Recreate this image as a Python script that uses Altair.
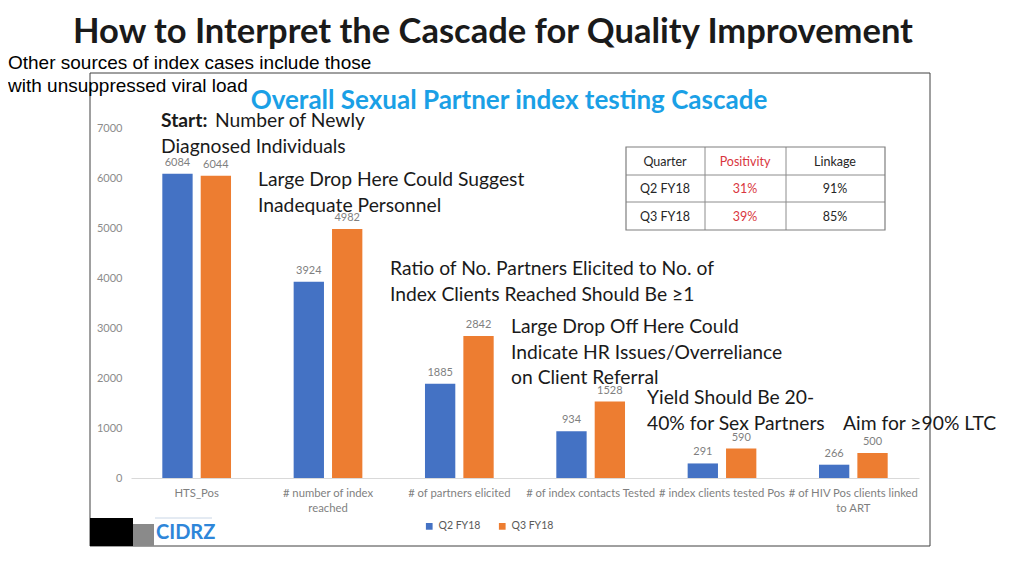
import altair as alt
import pandas as pd

# ---------------- data ----------------
categories = ["HTS_Pos", "# number of index|reached", "# of partners elicited",
              "# of index contacts Tested", "# index clients tested Pos",
              "# of HIV Pos clients linked|to ART"]
series = ["Q2 FY18", "Q3 FY18"]
q2_values = [6084, 3924, 1885, 934, 291, 266]
q3_values = [6044, 4982, 2842, 1528, 590, 500]
y_ticks = [0, 1000, 2000, 3000, 4000, 5000, 6000, 7000]

table_quarter = ["Quarter", "Q2 FY18", "Q3 FY18"]
table_positivity = ["Positivity", "31%", "39%"]
table_linkage = ["Linkage", "91%", "85%"]

main_title = "How to Interpret the Cascade for Quality Improvement"
side_note = "Other sources of index cases include those\nwith unsuppressed viral load"
inner_title = "Overall Sexual Partner index testing Cascade"
notes = [
    ("Number of Newly", 215, 127),
    ("Diagnosed Individuals", 161, 152.5),
    ("Large Drop Here Could Suggest\nInadequate Personnel", 258, 186),
    ("Ratio of No. Partners Elicited to No. of\nIndex Clients Reached Should Be \u22651", 390, 275),
    ("Large Drop Off Here Could\nIndicate HR Issues/Overreliance\non Client Referral", 511, 333),
    ("Yield Should Be 20-\n40% for Sex Partners", 647, 404),
    ("Aim for \u226590% LTC", 843, 430),
]

rows = []
for c, a, b in zip(categories, q2_values, q3_values):
    rows.append({"category": c, "series": series[0], "value": a})
    rows.append({"category": c, "series": series[1], "value": b})
df = pd.DataFrame(rows)

# plot origin on the page
OX, OY = 131, 128
W, H = 788, 350


def px(x):
    return x - OX


def py(y):
    return y - OY


one = pd.DataFrame({"k": [0]})


def text_layer(txt, x, y, size=19.3, bold=False, color="#1a1a1a", align="left",
               font="Lato", lh=25.5):
    return alt.Chart(pd.DataFrame({"t": [txt]})).mark_text(
        align=align, baseline="alphabetic", font=font, fontSize=size,
        fontWeight="bold" if bold else "normal", color=color,
        lineBreak="\n", lineHeight=lh
    ).encode(x=alt.value(px(x)), y=alt.value(py(y)), text="t:N")


def rect_layer(x1, y1, x2, y2, stroke="#404040", sw=1, fill=None):
    if fill is None:
        m = alt.Chart(one).mark_rect(filled=False, stroke=stroke, strokeWidth=sw)
    else:
        m = alt.Chart(one).mark_rect(fill=fill, stroke=None)
    return m.encode(x=alt.value(px(x1)), x2=alt.value(px(x2)),
                    y=alt.value(py(y1)), y2=alt.value(py(y2)))


def hrule(x1, x2, y, color="#8c8c8c", sw=1):
    return alt.Chart(one).mark_rule(color=color, strokeWidth=sw).encode(
        x=alt.value(px(x1)), x2=alt.value(px(x2)), y=alt.value(py(y)))


def vrule(x, y1, y2, color="#8c8c8c", sw=1):
    return alt.Chart(one).mark_rule(color=color, strokeWidth=sw).encode(
        x=alt.value(px(x)), y=alt.value(py(y1)), y2=alt.value(py(y2)))


# ---------------- bars ----------------
xenc = alt.X("category:N", sort=categories,
             scale=alt.Scale(paddingInner=0, paddingOuter=0),
             axis=alt.Axis(title=None, labelAngle=0,
                           labelExpr="split(datum.label, '|')",
                           labelFont="Lato", labelFontSize=11.3,
                           labelColor="#7f7f7f", ticks=False,
                           domainColor="#d9d9d9", labelPadding=9,
                           labelLineHeight=15, labelOverlap=False))
xoff = alt.XOffset("series:N", sort=series,
                   scale=alt.Scale(paddingInner=0.21, paddingOuter=0.816))
yenc = alt.Y("value:Q", scale=alt.Scale(domain=[0, 7000]),
             axis=alt.Axis(values=y_ticks, format="d", title=None, grid=False,
                           domain=False, ticks=False, labelFont="Lato",
                           labelFontSize=11, labelColor="#8c8c8c",
                           labelPadding=9))

bars = alt.Chart(df).mark_bar().encode(
    x=xenc, xOffset=xoff, y=yenc,
    color=alt.Color("series:N", sort=series,
                    scale=alt.Scale(domain=series, range=["#4472C4", "#ED7D31"]),
                    legend=alt.Legend(title=None, orient="none",
                                      legendX=px(424), legendY=py(521),
                                      direction="horizontal", symbolType="square",
                                      symbolSize=45, labelFont="Lato",
                                      labelFontSize=10.5, labelColor="#595959",
                                      columnPadding=16, symbolStrokeWidth=0)),
)

labels = alt.Chart(df).mark_text(dy=-6, baseline="bottom", font="Lato",
                                 fontSize=11, color="#7f7f7f").encode(
    x=alt.X("category:N", sort=categories),
    xOffset=alt.XOffset("series:N", sort=series),
    y="value:Q", text="value:Q")

# ---------------- table ----------------
table = [
    hrule(626, 885, 175), hrule(626, 885, 202),
    vrule(705, 147, 230), vrule(786, 147, 230),
    rect_layer(626, 147, 885, 230, stroke="#7f7f7f", sw=1.2),
    text_layer("\n".join(table_quarter), 665, 165.5, size=12.5, align="center",
               color="#262626", lh=27.6),
    text_layer("\n".join(table_positivity), 745, 165.5, size=12.5, align="center",
               color="#D9363E", lh=27.6),
    text_layer("\n".join(table_linkage), 835, 165.5, size=12.5, align="center",
               color="#262626", lh=27.6),
]

# ---------------- annotations ----------------
ann = [text_layer("Start:", 161, 127, bold=True)]
ann += [text_layer(t, x, y) for t, x, y in notes]

titles = [
    text_layer(main_title, 493, 42.5, size=34.5, bold=True, align="center",
               color="#1a1a1a"),
    text_layer(side_note, 8, 69, size=19, font="Liberation Sans",
               color="#000000", lh=23),
    text_layer(inner_title, 509, 109, size=26, bold=True, align="center",
               color="#1AA0E6"),
]

logo = [
    rect_layer(90, 518, 133, 546, fill="#000000"),
    rect_layer(133, 524, 154, 546, fill="#8a8a8a"),
    hrule(155, 212, 518, color="#c9d6e6", sw=1),
    text_layer("CIDRZ", 156, 539, size=20, bold=True, color="#2E86D9"),
]

frame = rect_layer(90, 73, 930, 546, stroke="#404040", sw=1)

chart = alt.layer(frame, bars, labels, *table, *ann, *titles, *logo).properties(
    width=W, height=H,
    padding={"left": OX - 8, "top": OY - 8, "right": 90, "bottom": 80},
    autosize=alt.AutoSizeParams(type="none"),
    background="white",
).configure_view(stroke=None)

chart.save("out.html", embed_options={"renderer": "svg", "actions": False})
